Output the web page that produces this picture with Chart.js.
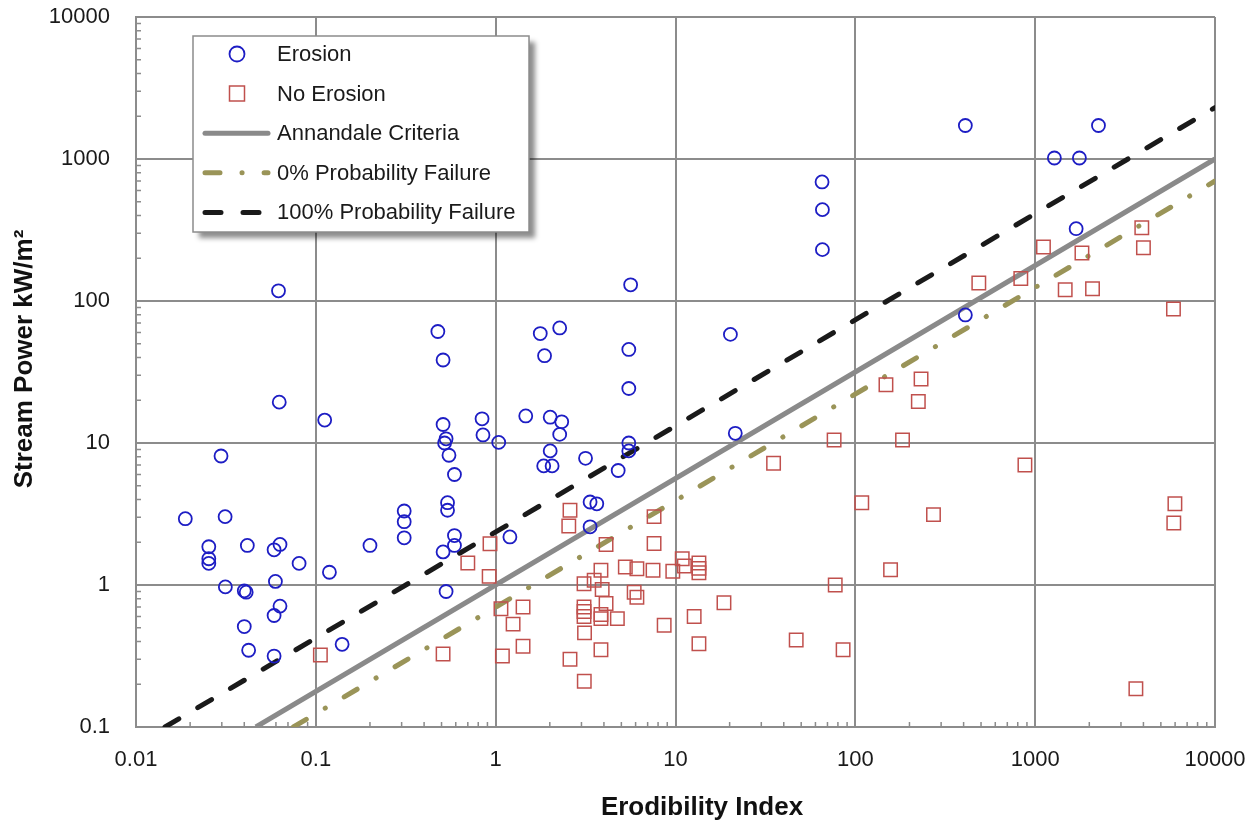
<!DOCTYPE html>
<html>
<head>
<meta charset="utf-8">
<title>Stream Power vs Erodibility Index</title>
<script src="https://cdn.jsdelivr.net/npm/chart.js@4.4.0/dist/chart.umd.min.js"></script>
<style>
  html, body { margin: 0; padding: 0; background: #fff; }
  #wrap { width: 1260px; height: 822px; }
</style>
</head>
<body>
<div id="wrap"><canvas id="erosionChart" width="1260" height="822"></canvas></div>
<script>
// values (log-log)
const erosionX = [0.062, 0.477, 0.51, 1.77, 1.87, 0.0626, 0.112, 0.51, 0.53, 0.52,
  0.55, 0.59, 0.84, 0.85, 1.04, 1.47, 2.27, 5.63, 5.5, 5.5,
  20.2, 2.01, 2.33, 2.27, 2.01, 1.85, 2.06, 3.16, 5.5, 5.5,
  4.8, 3.35, 3.65, 3.35, 21.5, 1.2, 0.0297, 0.0188, 0.0313, 0.0254,
  0.0254, 0.0254, 0.0416, 0.0586, 0.0632, 0.0807, 0.119, 0.2, 0.31, 0.31,
  0.31, 0.54, 0.54, 0.59, 0.59, 0.51, 0.0314, 0.04, 0.041, 0.0596,
  0.0632, 0.0586, 0.04, 0.0423, 0.0586, 0.14, 0.53, 409, 2249, 1279,
  1762, 65.3, 65.6, 65.6, 1690, 409];
const erosionY = [118, 61, 38.4, 59, 41.2, 19.4, 14.5, 13.5, 10.7, 10.0,
  8.2, 6.0, 14.8, 11.4, 10.1, 15.5, 64.6, 130, 45.6, 24.2,
  58.2, 15.2, 14.1, 11.5, 8.8, 6.9, 6.9, 7.8, 10.0, 8.8,
  6.4, 3.84, 3.73, 2.57, 11.7, 2.18, 8.1, 2.93, 3.03, 1.86,
  1.53, 1.42, 1.9, 1.77, 1.93, 1.42, 1.23, 1.9, 3.32, 2.79,
  2.15, 3.8, 3.36, 2.23, 1.9, 1.71, 0.97, 0.91, 0.89, 1.06,
  0.71, 0.61, 0.51, 0.347, 0.316, 0.382, 0.9, 1722, 1722, 1016,
  1016, 689, 440, 230, 323, 79.8];

const noErosionX = [0.93, 0.7, 0.92, 0.106, 0.51, 1.07, 1.42, 1.25, 1.42, 1.09,
  2.59, 2.55, 7.6, 7.6, 4.11, 35.1, 76.2, 108.6, 148, 183,
  157, 3.85, 3.53, 3.1, 3.91, 4.11, 3.1, 3.1, 3.1, 3.85,
  3.85, 4.75, 3.12, 3.85, 2.59, 3.11, 5.26, 6.1, 7.5, 9.66,
  10.9, 11.2, 13.5, 13.5, 13.5, 5.89, 6.1, 8.65, 12.7, 13.5,
  18.6, 46.9, 77.3, 85.5, 486, 832, 1112, 1820, 1469, 2084,
  3917, 4000, 5875, 232, 224, 877, 272, 5985, 5900, 3631];
const noErosionY = [1.95, 1.43, 1.15, 0.321, 0.327, 0.68, 0.7, 0.53, 0.37, 0.316,
  3.36, 2.6, 3.03, 1.96, 1.93, 7.2, 10.5, 3.8, 25.7, 10.5,
  1.28, 1.27, 1.08, 1.02, 0.93, 0.74, 0.7, 0.65, 0.6, 0.62,
  0.58, 0.58, 0.46, 0.35, 0.3, 0.21, 1.34, 1.3, 1.27, 1.25,
  1.53, 1.36, 1.43, 1.31, 1.22, 0.89, 0.82, 0.52, 0.6, 0.386,
  0.75, 0.41, 1.0, 0.35, 134, 144, 240, 218, 120, 122,
  328, 237, 87.9, 28.2, 19.6, 7.0, 3.13, 3.73, 2.73, 0.186];

// criteria lines: start on the bottom axis, end at the right edge
const annandaleX = [0.0464, 10000];
const annandaleY = [0.1, 1000];
const zeroPctX = [0.075, 10000];
const zeroPctY = [0.1, 700];
const hundredPctX = [0.0145, 10000];
const hundredPctY = [0.1, 2300];

const xTicks = [0.01, 0.1, 1, 10, 100, 1000, 10000];
const xTickLabels = ['0.01', '0.1', '1', '10', '100', '1000', '10000'];
const yTicks = [0.1, 1, 10, 100, 1000, 10000];
const yTickLabels = ['0.1', '1', '10', '100', '1000', '10000'];

const gridColor = '#8c8c8c';
const fontFam = "'Liberation Sans', Arial, sans-serif";

function toPoints(xs, ys) {
  return xs.map((x, i) => ({ x: x, y: ys[i] }));
}

// small inward minor ticks on left and bottom axes
const minorTicks = {
  id: 'minorTicks',
  beforeDatasetsDraw(chart) {
    const { ctx, chartArea: a, scales: { x, y } } = chart;
    ctx.save();
    ctx.strokeStyle = gridColor;
    ctx.lineWidth = 1.5;
    ctx.beginPath();
    for (let k = -2; k < 4; k++) {
      for (let m = 2; m <= 9; m++) {
        const px = x.getPixelForValue(m * Math.pow(10, k));
        ctx.moveTo(px, a.bottom);
        ctx.lineTo(px, a.bottom - 5);
      }
    }
    for (let k = -1; k < 4; k++) {
      for (let m = 2; m <= 9; m++) {
        const py = y.getPixelForValue(m * Math.pow(10, k));
        ctx.moveTo(a.left, py);
        ctx.lineTo(a.left + 5, py);
      }
    }
    ctx.stroke();
    ctx.restore();
  }
};

// boxed legend with drop shadow, top-left inside the plot
const boxLegend = {
  id: 'boxLegend',
  afterDraw(chart) {
    const ctx = chart.ctx;
    const bx = 193, by = 36, bw = 336, bh = 196;
    ctx.save();
    ctx.shadowColor = 'rgba(0,0,0,0.45)';
    ctx.shadowBlur = 5;
    ctx.shadowOffsetX = 6;
    ctx.shadowOffsetY = 6;
    ctx.fillStyle = '#fff';
    ctx.fillRect(bx, by, bw, bh);
    ctx.restore();

    ctx.save();
    ctx.strokeStyle = gridColor;
    ctx.lineWidth = 1.5;
    ctx.strokeRect(bx, by, bw, bh);

    chart.data.datasets.forEach((ds, row) => {
      const cy = 54 + row * 39.6;
      ctx.save();
      ctx.strokeStyle = ds.borderColor;
      ctx.lineWidth = ds.borderWidth;
      ctx.beginPath();
      if (ds.showLine) {
        ctx.lineCap = 'round';
        ctx.setLineDash(ds.borderDash || []);
        ctx.moveTo(205, cy);
        ctx.lineTo(268, cy);
      } else if (ds.pointStyle === 'rect') {
        ctx.rect(237 - 7.5, cy - 7.5, 15, 15);
      } else {
        ctx.arc(237, cy, 7.5, 0, Math.PI * 2);
      }
      ctx.stroke();
      ctx.restore();
      ctx.fillStyle = '#1a1a1a';
      ctx.font = '22px ' + fontFam;
      ctx.textAlign = 'left';
      ctx.textBaseline = 'middle';
      ctx.fillText(ds.label, 277, cy + 1);
    });
    ctx.restore();
  }
};

// axis titles
const axisTitles = {
  id: 'axisTitles',
  afterDraw(chart) {
    const ctx = chart.ctx;
    ctx.save();
    ctx.fillStyle = '#111';
    ctx.font = 'bold 26px ' + fontFam;
    ctx.textAlign = 'center';
    ctx.textBaseline = 'alphabetic';
    ctx.fillText('Erodibility Index', 702, 815);
    ctx.translate(32, 359);
    ctx.rotate(-Math.PI / 2);
    ctx.fillText('Stream Power kW/m\u00B2', 0, 0);
    ctx.restore();
  }
};

const ctx = document.getElementById('erosionChart');
new Chart(ctx, {
  type: 'scatter',
  data: {
    datasets: [
      {
        label: 'Erosion',
        data: toPoints(erosionX, erosionY),
        pointStyle: 'circle',
        pointRadius: 6.5,
        borderColor: '#1d1dc4',
        backgroundColor: 'rgba(0,0,0,0)',
        borderWidth: 1.8,
        order: 1
      },
      {
        label: 'No Erosion',
        data: toPoints(noErosionX, noErosionY),
        pointStyle: 'rect',
        pointRadius: 9.5,
        borderColor: '#c0504d',
        backgroundColor: 'rgba(0,0,0,0)',
        borderWidth: 1.5,
        order: 2
      },
      {
        label: 'Annandale Criteria',
        data: toPoints(annandaleX, annandaleY),
        showLine: true,
        pointRadius: 0,
        borderColor: '#8a8a8a',
        borderWidth: 5,
        order: 5
      },
      {
        label: '0% Probability Failure',
        data: toPoints(zeroPctX, zeroPctY),
        showLine: true,
        pointRadius: 0,
        borderColor: '#9a9458',
        borderWidth: 5,
        borderCapStyle: 'round',
        borderDash: [15, 22, 0.1, 22],
        order: 4
      },
      {
        label: '100% Probability Failure',
        data: toPoints(hundredPctX, hundredPctY),
        showLine: true,
        pointRadius: 0,
        borderColor: '#1a1a1a',
        borderWidth: 5,
        borderCapStyle: 'round',
        borderDash: [16, 22],
        order: 3
      }
    ]
  },
  options: {
    responsive: false,
    animation: false,
    layout: { padding: { top: 17, right: 45, bottom: 0, left: 0 } },
    plugins: {
      legend: { display: false },
      tooltip: { enabled: false },
      title: { display: false }
    },
    scales: {
      x: {
        type: 'logarithmic',
        min: 0.01,
        max: 10000,
        afterBuildTicks: (scale) => { scale.ticks = xTicks.map(v => ({ value: v })); },
        afterFit: (scale) => {
          scale.height = 95;
          scale.paddingLeft = 0;
          scale.paddingRight = 0;
        },
        grid: { color: gridColor, lineWidth: 2, drawTicks: false },
        border: { color: gridColor, width: 2 },
        ticks: {
          padding: 20,
          color: '#1a1a1a',
          font: { family: fontFam, size: 22 },
          maxRotation: 0,
          callback: (v) => {
            const i = xTicks.indexOf(v);
            return i >= 0 ? xTickLabels[i] : '';
          }
        }
      },
      y: {
        type: 'logarithmic',
        min: 0.1,
        max: 10000,
        afterBuildTicks: (scale) => { scale.ticks = yTicks.map(v => ({ value: v })); },
        afterFit: (scale) => {
          scale.width = 136;
          scale.paddingTop = 0;
          scale.paddingBottom = 0;
        },
        grid: { color: gridColor, lineWidth: 2, drawTicks: false },
        border: { color: gridColor, width: 2 },
        ticks: {
          padding: 26,
          color: '#1a1a1a',
          font: { family: fontFam, size: 22 },
          callback: (v) => {
            const i = yTicks.indexOf(v);
            return i >= 0 ? yTickLabels[i] : '';
          }
        }
      }
    }
  },
  plugins: [minorTicks, boxLegend, axisTitles]
});
</script>
</body>
</html>
